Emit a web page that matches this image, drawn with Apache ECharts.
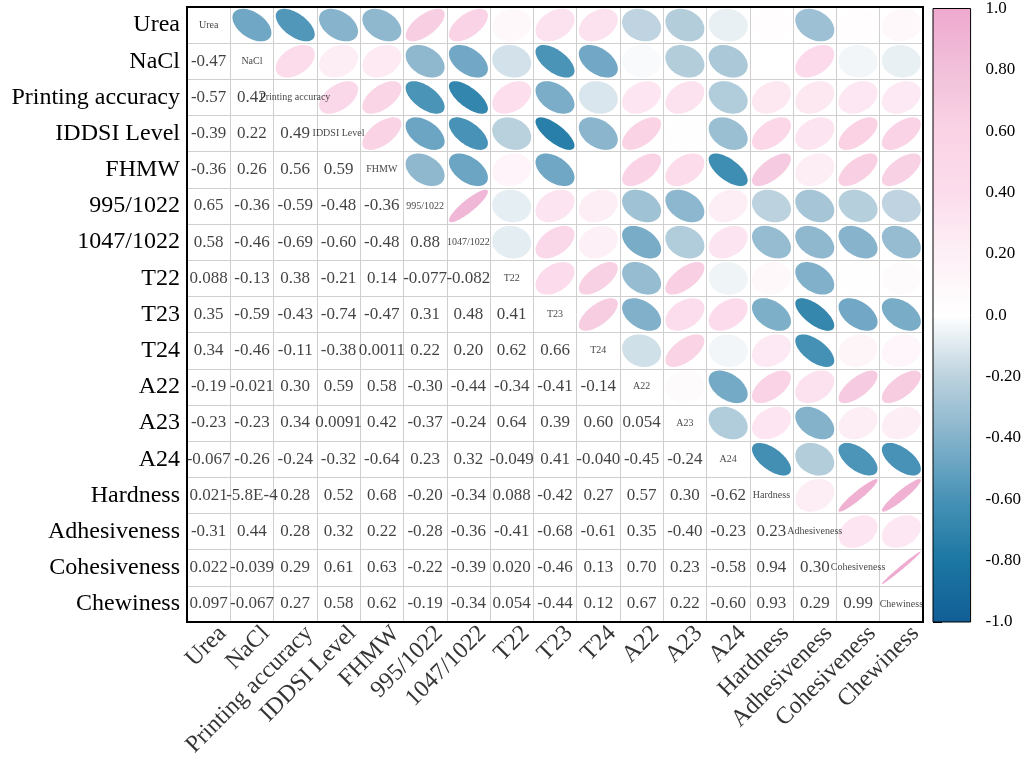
<!DOCTYPE html>
<html><head><meta charset="utf-8">
<script src="https://cdn.jsdelivr.net/npm/echarts@6/dist/echarts.min.js"></script>
<style>html,body{margin:0;padding:0;background:#fff}#c{width:1024px;height:769px}</style>
</head><body><div id="c"></div>
<script>
const vars = ['Urea','NaCl','Printing accuracy','IDDSI Level','FHMW','995/1022','1047/1022','T22','T23','T24','A22','A23','A24','Hardness','Adhesiveness','Cohesiveness','Chewiness'];
// lower triangle: row i holds correlations with columns 0..i-1
const lowerRows = [
  [],
  [-0.47],
  [-0.57, 0.42],
  [-0.39, 0.22, 0.49],
  [-0.36, 0.26, 0.56, 0.59],
  [0.65, -0.36, -0.59, -0.48, -0.36],
  [0.58, -0.46, -0.69, -0.60, -0.48, 0.88],
  [0.088, -0.13, 0.38, -0.21, 0.14, -0.077, -0.082],
  [0.35, -0.59, -0.43, -0.74, -0.47, 0.31, 0.48, 0.41],
  [0.34, -0.46, -0.11, -0.38, 0.0011, 0.22, 0.20, 0.62, 0.66],
  [-0.19, -0.021, 0.30, 0.59, 0.58, -0.30, -0.44, -0.34, -0.41, -0.14],
  [-0.23, -0.23, 0.34, 0.0091, 0.42, -0.37, -0.24, 0.64, 0.39, 0.60, 0.054],
  [-0.067, -0.26, -0.24, -0.32, -0.64, 0.23, 0.32, -0.049, 0.41, -0.040, -0.45, -0.24],
  [0.021, -5.8e-4, 0.28, 0.52, 0.68, -0.20, -0.34, 0.088, -0.42, 0.27, 0.57, 0.30, -0.62],
  [-0.31, 0.44, 0.28, 0.32, 0.22, -0.28, -0.36, -0.41, -0.68, -0.61, 0.35, -0.40, -0.23, 0.23],
  [0.022, -0.039, 0.29, 0.61, 0.63, -0.22, -0.39, 0.020, -0.46, 0.13, 0.70, 0.23, -0.58, 0.94, 0.30],
  [0.097, -0.067, 0.27, 0.58, 0.62, -0.19, -0.34, 0.054, -0.44, 0.12, 0.67, 0.22, -0.60, 0.93, 0.29, 0.99]
];
const scaleTicks = [1.0, 0.8, 0.6, 0.4, 0.2, 0.0, -0.2, -0.4, -0.6, -0.8, -1.0];
// colour stops from -1 to 1, evenly spaced
const scaleColors = ['#125e96','#1b77a3','#4792b6','#84b2cb','#bcd2de','#ffffff','#fdf0f6','#fcdcec','#fad3e5','#f1c0da','#efa9cf'];

const n = vars.length;
const ellipseData = [], numData = [], diagData = [], xLabelData = [];
for (let i = 0; i < n; i++) {
  for (let j = 0; j < i; j++) {
    const v = lowerRows[i][j];
    numData.push([j, i, v]);      // lower triangle: numbers
    ellipseData.push([i, j, v]);  // upper triangle: ellipses (col i,row j)
  }
  diagData.push([i, i, vars[i]]);
  xLabelData.push([i, n - 1, vars[i]]);
}
function fmt(v) {
  if (Math.abs(v) < 0.001) return v.toExponential(1).toUpperCase();
  return v.toPrecision(2);
}
const serif = "'Liberation Serif','Times New Roman',serif";
const chart = echarts.init(document.getElementById('c'));
const gL = 187, gT = 7, gW = 736, gH = 615;
chart.setOption({
  animation: false,
  backgroundColor: '#fff',
  grid: [
    {left: gL, top: gT, width: gW, height: gH, show: true, borderColor: '#000', borderWidth: 2, z: 10},
    {left: 933, top: 8, width: 40, height: 614}
  ],
  xAxis: [
    {type: 'category', data: vars, gridIndex: 0,
     axisLine: {show: false}, axisTick: {show: false, interval: 0},
     splitLine: {show: true, interval: 0, lineStyle: {color: '#cfcfcf', width: 1}},
     axisLabel: {show: false, interval: 0}},
    {type: 'value', gridIndex: 1, min: 0, max: 1, show: false}
  ],
  yAxis: [
    {type: 'category', data: vars, inverse: true, gridIndex: 0,
     axisLine: {show: false}, axisTick: {show: false},
     splitLine: {show: true, interval: 0, lineStyle: {color: '#cfcfcf', width: 1}},
     axisLabel: {fontSize: 24, fontFamily: serif, color: '#000', margin: 7, interval: 0}},
    {type: 'value', gridIndex: 1, min: -1, max: 1, interval: 0.2, position: 'right',
     axisLine: {show: true, lineStyle: {color: '#000', width: 1}},
     axisTick: {show: true, length: 9, lineStyle: {color: '#000'}},
     splitLine: {show: false},
     axisLabel: {fontSize: 17, fontFamily: serif, color: '#000', margin: 15,
       formatter: v => {
         const r = Math.round(v * 10) / 10;
         if (scaleTicks.indexOf(r) < 0) return '';
         if (r === 0) return '0.0';
         if (Math.abs(r) === 1) return r.toFixed(1);
         return r.toFixed(2);
       }}}
  ],
  visualMap: {
    show: false, type: 'continuous', min: -1, max: 1, dimension: 2, seriesIndex: 0,
    inRange: {color: scaleColors}
  },
  series: [
    {
      type: 'custom', xAxisIndex: 0, yAxisIndex: 0, data: ellipseData,
      renderItem: function (params, api) {
        const c = api.coord([api.value(0), api.value(1)]);
        const s = api.size([1, 1]);
        const r = api.value(2);
        const rx = s[0] / 2 * 0.9, ry = s[1] / 2 * 0.9;
        const d = Math.acos(Math.max(-1, Math.min(1, r)));
        const pts = [];
        for (let k = 0; k < 72; k++) {
          const t = k / 72 * 2 * Math.PI;
          pts.push([c[0] + rx * Math.cos(t + d / 2), c[1] - ry * Math.cos(t - d / 2)]);
        }
        return {type: 'polygon', shape: {points: pts}, style: {fill: api.visual('color'), stroke: null}};
      }
    },
    {
      type: 'scatter', xAxisIndex: 0, yAxisIndex: 0, data: numData, symbolSize: 0,
      label: {show: true, position: 'inside', fontSize: 17, fontFamily: serif, color: '#111',
        formatter: p => fmt(p.value[2])},
      emphasis: {disabled: true}
    },
    {
      type: 'scatter', xAxisIndex: 0, yAxisIndex: 0, data: diagData, symbolSize: 0,
      label: {show: true, position: 'inside', fontSize: 10, fontFamily: serif, color: '#111',
        formatter: p => p.value[2]},
      emphasis: {disabled: true}
    },
    {
      type: 'scatter', xAxisIndex: 0, yAxisIndex: 0, data: xLabelData, symbolSize: 0, clip: false,
      label: {show: true, position: [14, 26], rotate: 45, align: 'right', verticalAlign: 'middle',
        fontSize: 24, fontFamily: serif, color: '#000', formatter: p => p.value[2]},
      emphasis: {disabled: true}
    },
    {
      type: 'custom', xAxisIndex: 1, yAxisIndex: 1, data: [[0, 0]],
      renderItem: function (params, api) {
        const p1 = api.coord([0, 1]);
        const p2 = api.coord([1, -1]);
        const stops = scaleColors.map((col, k) => ({offset: 1 - k / (scaleColors.length - 1), color: col}));
        stops.reverse();
        return {type: 'rect', shape: {x: p1[0], y: p1[1], width: p2[0] - p1[0], height: p2[1] - p1[1]},
          style: {fill: new echarts.graphic.LinearGradient(0, 0, 0, 1, stops), stroke: '#000', lineWidth: 1}};
      }
    }
  ]
});
</script></body></html>
